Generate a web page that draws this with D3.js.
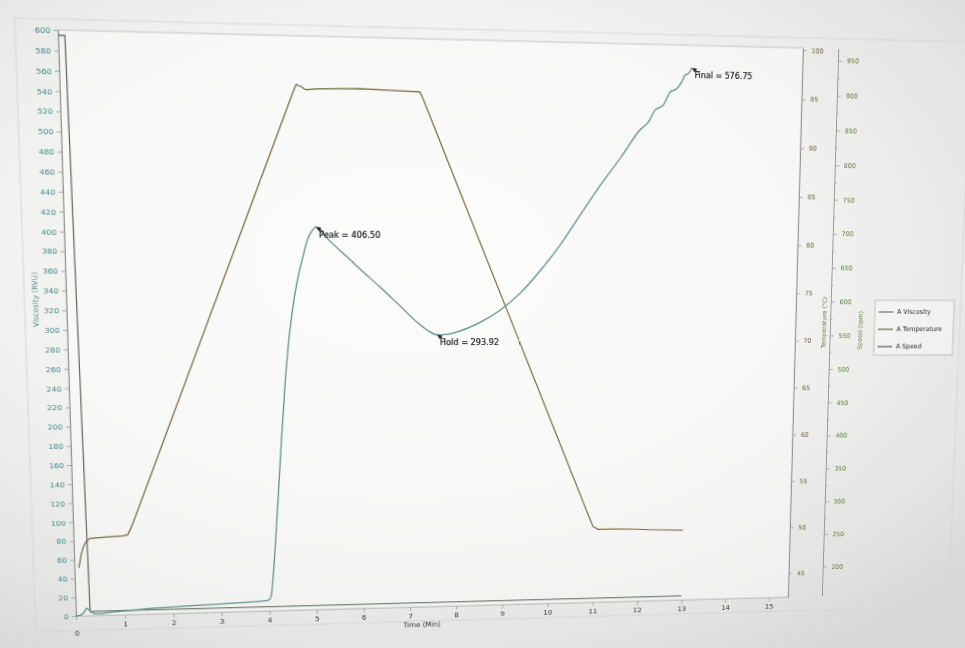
<!DOCTYPE html>
<html>
<head>
<meta charset="utf-8">
<script src="https://cdn.jsdelivr.net/npm/d3@7"></script>
<style>
  html, body { margin: 0; padding: 0; width: 965px; height: 648px; overflow: hidden; }
  body {
    background: radial-gradient(ellipse 78% 72% at 42% 40%, #f9f9f8 0%, #f1f1f0 55%, #e4e4e3 84%, #d8d8d7 100%);
  }
  #chart { position: absolute; left: 0; top: 0; transform-origin: 0 0; }
</style>
</head>
<body>
<svg id="chart" width="1000" height="660"></svg>
<script>
// ---- RVA pasting profile, sample A ----
const viscTime = [0.00, 0.10, 0.17, 0.22, 0.27, 0.33, 0.45, 0.70, 1.00, 1.50, 2.00, 2.50, 3.00, 3.50, 3.90,
  4.00, 4.05, 4.10, 4.20, 4.30, 4.40, 4.50, 4.60, 4.70, 4.80, 4.90, 5.00, 5.07, 5.20, 5.40, 5.70, 6.00,
  6.40, 6.80, 7.20, 7.40, 7.59, 7.80, 8.08, 8.50, 8.93, 9.36, 9.79, 10.21, 10.64, 11.06, 11.49, 11.91,
  12.10, 12.23, 12.40, 12.55, 12.70, 12.80, 12.87, 12.95, 13.01];
const viscosity = [0, 1, 4, 8, 6, 3, 2, 3, 4, 6, 7, 8, 9, 10, 11,
  12, 18, 42, 108, 180, 245, 295, 330, 356, 376, 394, 403, 406.50, 400, 390, 376, 362,
  344, 325, 306, 298.5, 293.92, 294.5, 298, 307, 320, 338, 362, 389, 421, 452, 481, 511,
  520, 532, 537, 551, 555, 562, 569, 571, 576.75];

const tempTime = [0.09, 0.14, 0.19, 0.25, 0.33, 0.60, 1.00, 1.10, 1.20, 4.60, 4.70, 4.80, 4.90, 5.10,
  6.00, 7.24, 7.30, 10.99, 11.10, 11.50, 12.00, 12.50, 13.00];
const temperature = [47.3, 48.6, 49.4, 50.0, 50.3, 50.4, 50.5, 50.6, 51.6, 94.3, 95.5, 95.3, 95.0, 95.1,
  95.2, 95.0, 94.4, 50.5, 50.2, 50.2, 50.1, 50.0, 49.9];

const speedTime = [0.00, 0.13, 0.29, 13.00];
const speed = [960, 960, 160, 160];

const timeTicks = [0, 1, 2, 3, 4, 5, 6, 7, 8, 9, 10, 11, 12, 13, 14, 15];
const viscTicks = [0, 20, 40, 60, 80, 100, 120, 140, 160, 180, 200, 220, 240, 260, 280, 300,
  320, 340, 360, 380, 400, 420, 440, 460, 480, 500, 520, 540, 560, 580, 600];
const tempTicks = [45, 50, 55, 60, 65, 70, 75, 80, 85, 90, 95, 100];
const speedTicks = [200, 250, 300, 350, 400, 450, 500, 550, 600, 650, 700, 750, 800, 850, 900, 950];
const legendLabels = ["A Viscosity", "A Temperature", "A Speed"];

// ---- layout ----
const L = 68, T = 39, R = 796, B = 605;
const speedAxisX = 833.5;
const FONT = "DejaVu Sans, Verdana, sans-serif";
const C = { visc: "#5e8f8c", temp: "#7a6a40", speed: "#55644a",
            viscText: "#3f8a8a", tempText: "#6b6436", speedText: "#5a7d2f" };

// keystone view of the printed page: where the plot frame corners fall
const pageCorners = [[58, 30], [803, 48], [788, 597], [76, 616]];

const svg = d3.select("#chart");

const x = d3.scaleLinear().domain([0, 15.44]).range([L, R]);
const yV = d3.scaleLinear().domain([0, 600]).range([B, T]);
const yT = d3.scaleLinear().domain([42.36, 100.2]).range([B, T]);
const yS = d3.scaleLinear().domain([154, 967]).range([B, T]);

// outer frame and plot frame
svg.append("rect").attr("x", 29).attr("y", 29).attr("width", 945).attr("height", 591)
  .attr("fill", "none").attr("stroke", "#d3d3d2").attr("stroke-width", 0.8);
svg.append("rect").attr("x", L).attr("y", T).attr("width", R - L).attr("height", B - T)
  .attr("fill", "rgba(255,255,255,0.45)").attr("stroke", "#c2c2c2").attr("stroke-width", 0.9);

function styleAxis(g, color, size) {
  g.attr("font-family", FONT).attr("font-size", size);
  g.select(".domain").attr("stroke", "#8c8c8c").attr("stroke-width", 0.9);
  g.selectAll(".tick line").attr("stroke", "#999").attr("stroke-width", 0.8);
  g.selectAll(".tick text").attr("fill", color);
}

// viscosity axis
const gLeft = svg.append("g").attr("transform", `translate(${L},0)`)
  .call(d3.axisLeft(yV).tickValues(viscTicks).tickSize(4).tickSizeOuter(0).tickPadding(3));
styleAxis(gLeft, C.viscText, 7.5);

// time axis
const gBottom = svg.append("g").attr("transform", `translate(0,${B})`)
  .call(d3.axisBottom(x).tickValues(timeTicks).tickSize(4).tickSizeOuter(0).tickPadding(3));
styleAxis(gBottom, "#363636", 7.4);
gBottom.select(".domain").attr("stroke", "#c2c2c2");
gBottom.selectAll(".tick").filter(d => d === 0).select("text").attr("y", 15);

// temperature axis
const gTemp = svg.append("g").attr("transform", `translate(${R},0)`)
  .call(d3.axisRight(yT).tickValues(tempTicks).tickSize(4).tickSizeOuter(0).tickPadding(5));
styleAxis(gTemp, C.tempText, 6.6);

// speed axis with minor ticks between the labelled ones
const speedMinor = speedTicks.slice(1).map((v, i) => (v + speedTicks[i]) / 2);
const gSpeed = svg.append("g").attr("transform", `translate(${speedAxisX},0)`)
  .call(d3.axisRight(yS).tickValues(speedTicks).tickSize(4).tickSizeOuter(0).tickPadding(5));
gSpeed.select(".domain").attr("d", `M0,${T}V${B}`);
styleAxis(gSpeed, C.speedText, 6.6);
const gSpeedMinor = svg.append("g").attr("transform", `translate(${speedAxisX},0)`)
  .call(d3.axisRight(yS).tickValues(speedMinor).tickSize(2).tickFormat(""));
gSpeedMinor.select(".domain").remove();
gSpeedMinor.selectAll(".tick line").attr("stroke", "#999").attr("stroke-width", 0.8);

// axis titles
function title(txt, cx, cy, rot, color, size) {
  svg.append("text").attr("transform", `translate(${cx},${cy}) rotate(${rot})`)
    .attr("text-anchor", "middle").attr("dy", "0.35em")
    .attr("font-family", FONT).attr("font-size", size).attr("fill", color).text(txt);
}
title("Viscosity (RVU)", 39, 293, -90, C.viscText, 7);
title("Temperature (°C)", 826.5, 316, -90, C.tempText, 6.2);
title("Speed (rpm)", 865.5, 324, -90, C.speedText, 6.4);
title("Time (Min)", 410, 623, 0, "#333", 7.2);

// curves
const plot = svg.append("g");
function path(xs, ys, yScale, curve) {
  return d3.line().x((d, i) => x(xs[i])).y(d => yScale(d)).curve(curve)(ys);
}
plot.append("path").attr("d", path(speedTime, speed, yS, d3.curveLinear))
  .attr("fill", "none").attr("stroke", C.speed).attr("stroke-width", 1.1);
plot.append("path").attr("d", path(tempTime, temperature, yT, d3.curveLinear))
  .attr("fill", "none").attr("stroke", C.temp).attr("stroke-width", 1.2)
  .attr("stroke-linejoin", "round");
plot.append("path").attr("d", path(viscTime, viscosity, yV, d3.curveMonotoneX))
  .attr("fill", "none").attr("stroke", C.visc).attr("stroke-width", 1.25);

// peak / hold / final markers on the viscosity trace
let iPeak = 0;
viscosity.forEach((v, i) => { if (viscTime[i] < 7 && v > viscosity[iPeak]) iPeak = i; });
let iHold = iPeak;
viscosity.forEach((v, i) => { if (i > iPeak && v < viscosity[iHold]) iHold = i; });
const iFinal = viscosity.length - 1;
const marks = [["Peak", iPeak], ["Hold", iHold], ["Final", iFinal]];

const gMarks = svg.append("g");
marks.forEach(([name, i]) => {
  const px = x(viscTime[i]), py = yV(viscosity[i]);
  const ang = Math.atan2(5, 8);
  const ux = Math.cos(ang), uy = Math.sin(ang);
  const bx = px + ux * 5, by = py + uy * 5;
  gMarks.append("line").attr("x1", px + 8).attr("y1", py + 5).attr("x2", bx).attr("y2", by)
    .attr("stroke", "#222").attr("stroke-width", 0.9);
  gMarks.append("path")
    .attr("d", `M${px},${py}L${bx - uy * 2.2},${by + ux * 2.2}L${bx + uy * 2.2},${by - ux * 2.2}Z`)
    .attr("fill", "#222");
  gMarks.append("text").attr("x", px + 3).attr("y", py + 10.5)
    .attr("font-family", FONT).attr("font-size", 8.2).attr("fill", "#111")
    .attr("stroke", "#111").attr("stroke-width", 0.15)
    .text(`${name} = ${viscosity[i].toFixed(2)}`);
});

// legend
const gLeg = svg.append("g");
gLeg.append("rect").attr("x", 881).attr("y", 293).attr("width", 86).attr("height", 57)
  .attr("fill", "rgba(255,255,255,0.35)").attr("stroke", "#b5b5b5").attr("stroke-width", 0.8);
const legColors = [C.visc, C.temp, C.speed];
legendLabels.forEach((lab, i) => {
  const ly = 305 + i * 18;
  gLeg.append("line").attr("x1", 885).attr("x2", 901).attr("y1", ly).attr("y2", ly)
    .attr("stroke", d3.color(legColors[i]).darker(0.8)).attr("stroke-width", 1.1);
  gLeg.append("text").attr("x", 905).attr("y", ly).attr("dy", "0.35em")
    .attr("font-family", FONT).attr("font-size", 6.8).attr("fill", "#2a2a2a").text(lab);
});

// keystone transform from the flat drawing onto the page
function squareToQuad(p) {
  const [x0, y0] = p[0], [x1, y1] = p[1], [x2, y2] = p[2], [x3, y3] = p[3];
  const dx1 = x1 - x2, dx2 = x3 - x2, dx3 = x0 - x1 + x2 - x3;
  const dy1 = y1 - y2, dy2 = y3 - y2, dy3 = y0 - y1 + y2 - y3;
  const den = dx1 * dy2 - dx2 * dy1;
  const g = (dx3 * dy2 - dx2 * dy3) / den, h = (dx1 * dy3 - dx3 * dy1) / den;
  return [[x1 - x0 + g * x1, x3 - x0 + h * x3, x0],
          [y1 - y0 + g * y1, y3 - y0 + h * y3, y0],
          [g, h, 1]];
}
function keystone() {
  const q = squareToQuad(pageCorners);
  const W = R - L, H = B - T;
  const m = q.map(r => [r[0] / W, r[1] / H, r[2] - r[0] * L / W - r[1] * T / H]);
  return `matrix3d(${m[0][0]},${m[1][0]},0,${m[2][0]},${m[0][1]},${m[1][1]},0,${m[2][1]},` +
         `0,0,1,0,${m[0][2]},${m[1][2]},0,${m[2][2]})`;
}
document.getElementById("chart").style.transform = keystone();
</script>
</body>
</html>
